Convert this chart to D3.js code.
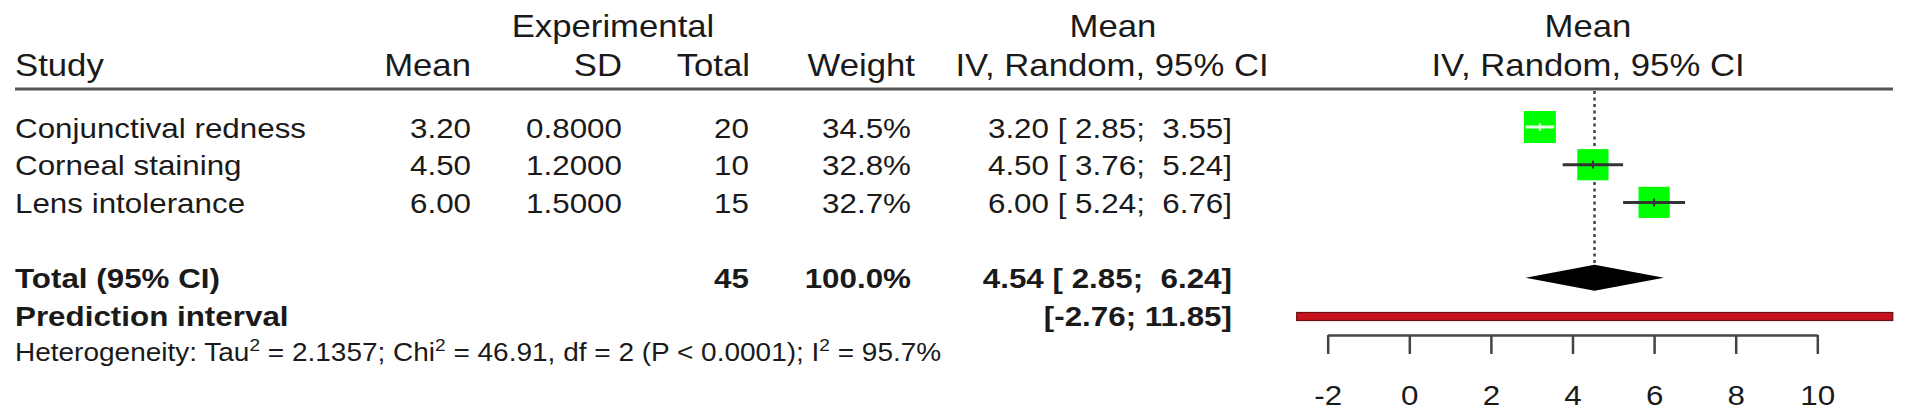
<!DOCTYPE html>
<html>
<head>
<meta charset="utf-8">
<script src="https://cdnjs.cloudflare.com/ajax/libs/d3/7.8.5/d3.min.js"></script>
<style>
body { margin: 0; background: white; }
text { font-family: "Liberation Sans", Arial, Helvetica, sans-serif; fill: #1a1a1a; white-space: pre; }
</style>
</head>
<body>
<div id="chart"></div>
<script>
// study rows
var studies = ["Conjunctival redness", "Corneal staining", "Lens intolerance"]
var means   = [3.20, 4.50, 6.00]
var sds     = [0.8, 1.2, 1.5]
var totals  = [20, 10, 15]
var weights = [34.5, 32.8, 32.7]
var ciLower = [2.85, 3.76, 5.24]
var ciUpper = [3.55, 5.24, 6.76]

// pooled result (estimate, lower, upper) and prediction interval
var pooled    = [4.54, 2.85, 6.24]
var predInt   = [-2.76, 11.85]
var totalN    = 45
var totalW    = 100.0
var axisTicks = [-2, 0, 2, 4, 6, 8, 10]

// heterogeneity line, [text, superscript?]
var hetParts = [
   ["Heterogeneity: Tau", false], ["2", true],
   [" = 2.1357; Chi", false], ["2", true],
   [" = 46.91, df = 2 (P < 0.0001); I", false], ["2", true],
   [" = 95.7%", false]
]

// global variables
var svgWidth  = 1913
var svgHeight = 418
var stretch   = 1.12   // text in the source is a bit wider than plain Helvetica
var headSize  = 31
var rowSize   = 28

// plain hyphen for negatives, like the source
function fmt2(v) { return v.toFixed(2) }
function fmt4(v) { return v.toFixed(4) }
function pad(v) {
   var s = v.toFixed(2)
   while (s.length < 5) s = " " + s
   return s
}

function ciText(est, lo, hi) {
   return fmt2(est) + " [" + pad(lo) + "; " + pad(hi) + "]"
}

var svg = d3.select("#chart")
.append("svg")
.attr("width", svgWidth)
.attr("height", svgHeight)

// x scale for the forest panel
var x = d3.scaleLinear()
.domain([-2, 10])
.range([1327.7, 1817.3])

// row centres
var rowY = d3.scaleLinear()
.domain([0, 6])
.range([127, 353.2])

// square side from weight
var boxSize = d3.scaleSqrt()
.domain([0, d3.max(weights)])
.range([0, 32])

function label(x0, y0, str, size, anchor, bold) {
   return svg.append("text")
   .attr("transform", "translate(" + x0 + "," + y0 + ") scale(" + stretch + ",1)")
   .attr("text-anchor", anchor)
   .attr("font-size", size)
   .attr("font-weight", bold ? "bold" : "normal")
   .text(str)
}

// headers
label(613, 37, "Experimental", headSize, "middle")
label(1113, 37, "Mean", headSize, "middle")
label(1588, 37, "Mean", headSize, "middle")
label(15, 76, "Study", headSize, "start")
label(471, 76, "Mean", headSize, "end")
label(622, 76, "SD", headSize, "end")
label(750, 76, "Total", headSize, "end")
label(915, 76, "Weight", headSize, "end")
label(1112, 76, "IV, Random, 95% CI", headSize, "middle")
label(1588, 76, "IV, Random, 95% CI", headSize, "middle")

svg.append("line")
.attr("x1", 15)
.attr("x2", 1893)
.attr("y1", 89)
.attr("y2", 89)
.attr("stroke", "#555")
.attr("stroke-width", 3)

// reference line at pooled estimate
svg.append("line")
.attr("x1", x(pooled[0]))
.attr("x2", x(pooled[0]))
.attr("y1", 91)
.attr("y2", rowY(4) - 13)
.attr("stroke", "#444")
.attr("stroke-width", 2.5)
.attr("stroke-dasharray", "3,3.5")

// study rows
studies.forEach(function(name, i) {
   var base = rowY(i) + 10.5
   label(15, base, name, rowSize, "start")
   label(471, base, fmt2(means[i]), rowSize, "end")
   label(622, base, fmt4(sds[i]), rowSize, "end")
   label(749, base, totals[i], rowSize, "end")
   label(911, base, weights[i].toFixed(1) + "%", rowSize, "end")
   label(1232, base, ciText(means[i], ciLower[i], ciUpper[i]), rowSize, "end")
})

var boxes = svg.selectAll(".box")
.data(studies)
.enter()
.append("rect")
.attr("class", "box")
.attr("x", function(d, i) { return x(means[i]) - boxSize(weights[i]) / 2 })
.attr("y", function(d, i) { return rowY(i) - boxSize(weights[i]) / 2 })
.attr("width", function(d, i) { return boxSize(weights[i]) })
.attr("height", function(d, i) { return boxSize(weights[i]) })
.attr("fill", "#00ff00")

// CI lines are white when they sit inside the square
function ciColor(i) {
   var half = boxSize(weights[i]) / 2
   var inside = x(ciLower[i]) >= x(means[i]) - half && x(ciUpper[i]) <= x(means[i]) + half
   return inside ? "#e8ffe8" : "#333"
}

svg.selectAll(".ci")
.data(studies)
.enter()
.append("line")
.attr("class", "ci")
.attr("x1", function(d, i) { return x(ciLower[i]) })
.attr("x2", function(d, i) { return x(ciUpper[i]) })
.attr("y1", function(d, i) { return rowY(i) })
.attr("y2", function(d, i) { return rowY(i) })
.attr("stroke", function(d, i) { return ciColor(i) })
.attr("stroke-width", 3)

svg.selectAll(".pt")
.data(studies)
.enter()
.append("line")
.attr("class", "pt")
.attr("x1", function(d, i) { return x(means[i]) })
.attr("x2", function(d, i) { return x(means[i]) })
.attr("y1", function(d, i) { return rowY(i) - 4 })
.attr("y2", function(d, i) { return rowY(i) + 4 })
.attr("stroke", function(d, i) { return ciColor(i) })
.attr("stroke-width", 2)

// total row
var totBase = rowY(4) + 10.5
label(15, totBase, "Total (95% CI)", rowSize, "start", true)
label(749, totBase, totalN, rowSize, "end", true)
label(911, totBase, totalW.toFixed(1) + "%", rowSize, "end", true)
label(1232, totBase, ciText(pooled[0], pooled[1], pooled[2]), rowSize, "end", true)

var dy = rowY(4)
svg.append("path")
.attr("d", "M" + x(pooled[1]) + "," + dy +
   "L" + x(pooled[0]) + "," + (dy - 13) +
   "L" + x(pooled[2]) + "," + dy +
   "L" + x(pooled[0]) + "," + (dy + 13) + "Z")
.attr("fill", "black")

// prediction interval
var piBase = rowY(5) + 10.5
label(15, piBase, "Prediction interval", rowSize, "start", true)
label(1232, piBase, "[" + fmt2(predInt[0]) + "; " + fmt2(predInt[1]) + "]", rowSize, "end", true)

svg.append("rect")
.attr("x", x(predInt[0]))
.attr("y", rowY(5) + 1 - 4)
.attr("width", x(predInt[1]) - x(predInt[0]))
.attr("height", 8)
.attr("fill", "#c8101e")
.attr("stroke", "#6a1010")
.attr("stroke-width", 1.2)

// heterogeneity text
var het = svg.append("text")
.attr("transform", "translate(15,361) scale(" + stretch + ",1)")
.attr("font-size", 25)

var raised = false
hetParts.forEach(function(p) {
   var t = het.append("tspan").text(p[0])
   if (p[1]) {
      t.attr("font-size", 17).attr("dy", -10)
      raised = true
   } else if (raised) {
      t.attr("dy", 10)
      raised = false
   }
})

// axis
var axis = svg.append("g")
.attr("transform", "translate(0,335)")
.call(d3.axisBottom(x)
   .tickValues(axisTicks)
   .tickSize(19)
   .tickSizeOuter(0)
   .tickPadding(31))

axis.attr("font-size", null).attr("font-family", null)
axis.select(".domain").attr("stroke", "#444").attr("stroke-width", 2.5)
axis.selectAll(".tick line").attr("stroke", "#444").attr("stroke-width", 2.5)
axis.selectAll(".tick text")
.attr("font-size", rowSize)
.attr("fill", "#1a1a1a")
.attr("transform", "scale(" + stretch + ",1)")
.text(function(d) { return String(d) })
</script>
</body>
</html>
